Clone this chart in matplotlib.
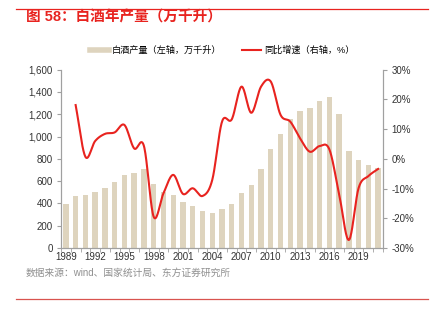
import numpy as np
import matplotlib
matplotlib.use('Agg')
import matplotlib.pyplot as plt
from matplotlib.lines import Line2D
from matplotlib.ticker import FuncFormatter, FixedLocator

plt.rcParams['font.family'] = ['Liberation Sans', 'Noto Sans CJK SC']
plt.rcParams['axes.unicode_minus'] = False

# 白酒年产量（万千升），1989-2021
years = list(range(1989, 2022))
production = [395, 467, 476, 500, 542, 590, 656, 677, 710, 573, 502, 476,
              416, 378, 330, 310, 348, 395, 494, 566, 707, 890, 1027, 1157,
              1231, 1256, 1315, 1358, 1198, 871, 786, 741, 716]

# 同比增速（%），1990-2021
growth_years = list(range(1990, 2022))
growth = [18.1, 0.7, 6.0, 8.4, 8.9, 11.4, 3.5, 4.3, -19.5, -11.6, -5.4, -11.8,
          -9.9, -12.5, -7.1, 12.5, 13.3, 24.3, 15.5, 24.3, 26.0, 14.8, 12.5,
          6.9, 2.4, 4.3, 3.2, -11.8, -27.3, -9.8, -5.8, -3.4]

tick_labels = [str(y) for y in range(1989, 2022, 3)]

BAR_COLOR = '#DED4BE'
RED = '#E8231F'
GRAY = '#A0A0A0'


def smooth_curve(x, y, n=20):
    # Catmull-Rom 曲线，用于平滑折线
    pts = np.column_stack([x, y]).astype(float)
    pts = np.vstack([2 * pts[0] - pts[1], pts, 2 * pts[-1] - pts[-2]])
    out = []
    t = np.linspace(0, 1, n, endpoint=False)[:, None]
    for i in range(1, len(pts) - 2):
        p0, p1, p2, p3 = pts[i - 1], pts[i], pts[i + 1], pts[i + 2]
        seg = 0.5 * ((2 * p1) + (-p0 + p2) * t
                     + (2 * p0 - 5 * p1 + 4 * p2 - p3) * t ** 2
                     + (-p0 + 3 * p1 - 3 * p2 + p3) * t ** 3)
        out.append(seg)
    out.append(pts[-2][None, :])
    out = np.vstack(out)
    return out[:, 0], out[:, 1]


fig = plt.figure(figsize=(4.32, 3.3), dpi=100)
ax = fig.add_axes([0.1412, 0.2485, 0.7454, 0.5403])

xpos = np.arange(len(years))
ax.bar(xpos, production, width=0.55, color=BAR_COLOR, zorder=2)
ax.set_xlim(-0.5, len(years) - 0.5)
ax.set_ylim(0, 1600)
ax.set_yticks(range(0, 1601, 200))
ax.yaxis.set_major_formatter(FuncFormatter(lambda v, p: f'{int(v):,}'))

label_pos = [years.index(int(s)) for s in tick_labels]
ax.xaxis.set_major_locator(FixedLocator(label_pos))
ax.set_xticklabels(tick_labels)
ax.xaxis.set_minor_locator(FixedLocator(np.arange(-0.5, len(years), 1.0)))
ax.tick_params(axis='x', which='major', length=0, pad=3, labelsize=7, colors='#333333')
ax.tick_params(axis='x', which='minor', length=3, color=GRAY, direction='out')
ax.tick_params(axis='y', length=3, color=GRAY, labelsize=7, labelcolor='#333333', pad=3)

for side in ['left', 'bottom', 'right']:
    ax.spines[side].set_color(GRAY)
    ax.spines[side].set_linewidth(0.8)
ax.spines['top'].set_visible(False)

ax2 = ax.twinx()
gx = [years.index(y) for y in growth_years]
sx, sy = smooth_curve(gx, growth)
ax2.plot(sx, sy, color=RED, lw=1.5, zorder=3)
ax2.set_ylim(-30, 30)
ax2.set_yticks(range(-30, 31, 10))
ax2.yaxis.set_major_formatter(FuncFormatter(lambda v, p: f'{int(v)}%'))
ax2.tick_params(axis='y', length=3, color=GRAY, labelsize=7, labelcolor='#333333', pad=3)
for side in ['left', 'bottom', 'right']:
    ax2.spines[side].set_color(GRAY)
    ax2.spines[side].set_linewidth(0.8)
ax2.spines['top'].set_visible(False)

# 图例
handles = [Line2D([0], [0], color=BAR_COLOR, lw=4),
           Line2D([0], [0], color=RED, lw=1.5)]
fig.legend(handles, ['白酒产量（左轴，万千升）', '同比增速（右轴，%）'],
           loc='center', bbox_to_anchor=(0.514, 0.848), ncol=2, frameon=False,
           fontsize=6.6, handlelength=2.1, handletextpad=0.35, columnspacing=2.2)

# 标题与分隔线
fig.add_artist(Line2D([16 / 432, 428 / 432], [1 - 9 / 330, 1 - 9 / 330],
                      color=RED, lw=0.9, transform=fig.transFigure))
fig.text(26 / 432, 1 - 17.5 / 330, '图 58：白酒年产量（万千升）', color=RED,
         fontsize=10.5, fontweight='bold', va='center', ha='left')
fig.text(26 / 432, 1 - 273 / 330, '数据来源：wind、国家统计局、东方证券研究所',
         color='#909090', fontsize=7, va='center', ha='left')
fig.add_artist(Line2D([16 / 432, 428 / 432], [1 - 299 / 330, 1 - 299 / 330],
                      color='#D9534F', lw=0.9, transform=fig.transFigure))

fig.savefig('out.png', dpi=100)
